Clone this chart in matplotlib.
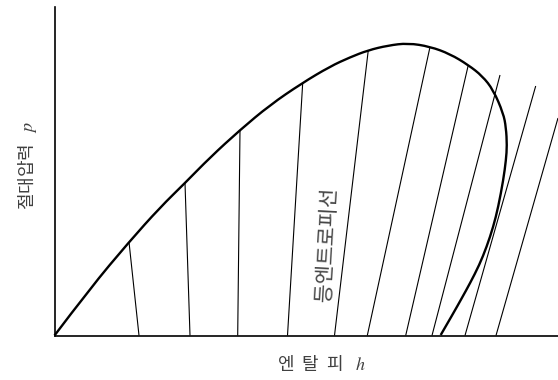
import matplotlib
matplotlib.use('Agg')
import matplotlib.pyplot as plt
from matplotlib.path import Path
from matplotlib.patches import PathPatch

plt.rcParams['font.family'] = ['Noto Sans CJK KR', 'DejaVu Sans']
plt.rcParams['mathtext.fontset'] = 'stix'

# saturation dome on the p-h plane (schematic units)
dome_h = [0, 35.5, 74.5, 105.5, 130.5, 155.5, 185.5, 215.5, 247, 275.5, 295.5,
          313.5, 333.5, 353.5, 375.5, 395.5, 413.8, 427.8, 438.8, 448.8, 451.5,
          452.5, 451.5, 448.8, 443.8, 438.8, 432.2, 424.8, 415.5, 407.2, 398.8, 386.2]
dome_p = [0, 47, 93.5, 128, 152.5, 178, 205.5, 230.5, 252, 269, 278.2,
          285.2, 290, 292.4, 288.9, 281.5, 270.5, 259.5, 245.5, 222.2, 208,
          190, 175.5, 155.5, 128.8, 108.8, 88.8, 70.5, 52.2, 37.2, 22.2, 0.5]

# isentropes: upper end and lower end of each line
isen_top_h = [74.5, 130.5, 185.5, 248.2, 313.8, 375.5, 413.8, 445.5, 481.2, 503.5]
isen_top_p = [93.5, 152.5, 205.5, 252.5, 285.5, 288.5, 270.5, 260.5, 249.5, 217.5]
isen_bot_h = [84.5, 135.5, 183.2, 233.0, 280.0, 312.8, 351.2, 377.5, 410.5, 441.5]
isen_bot_p = [0, 0, 0, 0, 0, 0, 0, 0, 0, 0]

fig = plt.figure(figsize=(5.58, 3.80), dpi=100)
ax = fig.add_axes([54.5 / 558, 44.5 / 380, 503.5 / 558, 328.5 / 380])

for h0, p0, h1, p1 in zip(isen_top_h, isen_top_p, isen_bot_h, isen_bot_p):
    ax.plot([h0, h1], [p0, p1], color='black', lw=0.8, solid_capstyle='butt')

# smooth the dome with quadratic bezier segments through the read points
pts = list(zip(dome_h, dome_p))
verts = [pts[0]]
codes = [Path.MOVETO]
for i in range(1, len(pts) - 1):
    if i < len(pts) - 2:
        end = ((pts[i][0] + pts[i + 1][0]) / 2, (pts[i][1] + pts[i + 1][1]) / 2)
    else:
        end = pts[i + 1]
    verts += [pts[i], end]
    codes += [Path.CURVE3, Path.CURVE3]
dome = PathPatch(Path(verts, codes), facecolor='none', edgecolor='black',
                 lw=1.7, clip_on=False)
ax.add_patch(dome)

ax.set_xlim(0, 503.5)
ax.set_ylim(0, 328.5)
for side in ['top', 'right']:
    ax.spines[side].set_visible(False)
for side in ['left', 'bottom']:
    ax.spines[side].set_linewidth(1.2)
ax.set_xticks([])
ax.set_yticks([])

ax.text(272.5, 91.5, '등엔트로피선', rotation=87, ha='center', va='center',
        rotation_mode='anchor', fontsize=15, color='#454545')

fig.text(321.5 / 558, 1 - 364 / 380, '엔  탈  피   $h$', ha='center', va='center',
         fontsize=13, color='#404040')
fig.text(27.5 / 558, 1 - 165 / 380, '절대압력   $p$', ha='center', va='center',
         rotation=90, fontsize=13, color='#404040')

fig.savefig('out.png', dpi=100)
